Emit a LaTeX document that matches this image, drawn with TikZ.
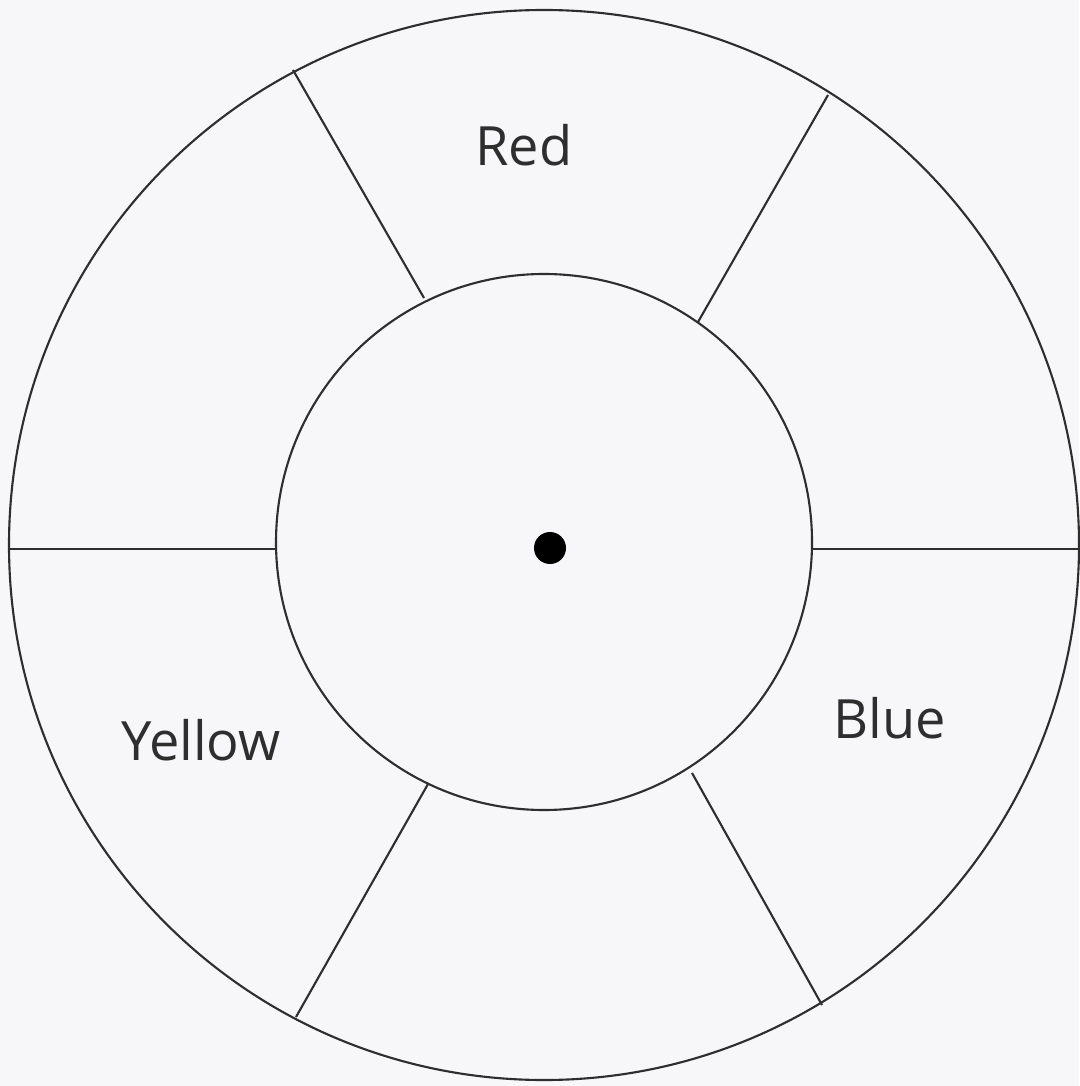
\documentclass[tikz,border=0pt]{standalone}
\usepackage{fontspec}
\setmainfont{Open Sans}
\usepackage{tikz}
\definecolor{paper}{HTML}{F7F6F8}
\definecolor{ink}{HTML}{2E2E2E}

\begin{document}
\begin{tikzpicture}[
  x=0.01cm,y=-0.01cm,
  rim/.style={draw=ink,line width=0.6pt},
  spoke/.style={draw=ink,line width=0.6pt},
  lbl/.style={font=\fontsize{15.4}{18}\selectfont,text=ink,inner sep=0pt}
]
% page
\fill[paper] (0,0) rectangle (1079,1086);
\useasboundingbox (0,0) rectangle (1079,1086);
% wheel
\coordinate (oc) at (544,545);
\coordinate (ic) at (544,542);
\draw[rim] (oc) circle[radius=535];
\draw[rim,fill=paper] (ic) circle[radius=268];
% spokes, outer rim to inner rim
\coordinate (o1) at (293,70);   \coordinate (i1) at (424,298);
\coordinate (o2) at (828,95);   \coordinate (i2) at (698,322);
\coordinate (o3) at (9,549);    \coordinate (i3) at (276,549);
\coordinate (o4) at (1079,549); \coordinate (i4) at (812,549);
\coordinate (o5) at (296,1017); \coordinate (i5) at (428,784);
\coordinate (o6) at (822,1005); \coordinate (i6) at (692,773);
\foreach \k in {1,...,6}
  \draw[spoke] (o\k) -- (i\k);
% hub
\fill[black] (550,548) circle[radius=16];
% colour names
\node[lbl] (red) at (524,145) {Red};
\node[lbl] (yellow) at (201,740) {Yellow};
\node[lbl] (blue) at (890,718) {Blue};
\end{tikzpicture}
\end{document}
